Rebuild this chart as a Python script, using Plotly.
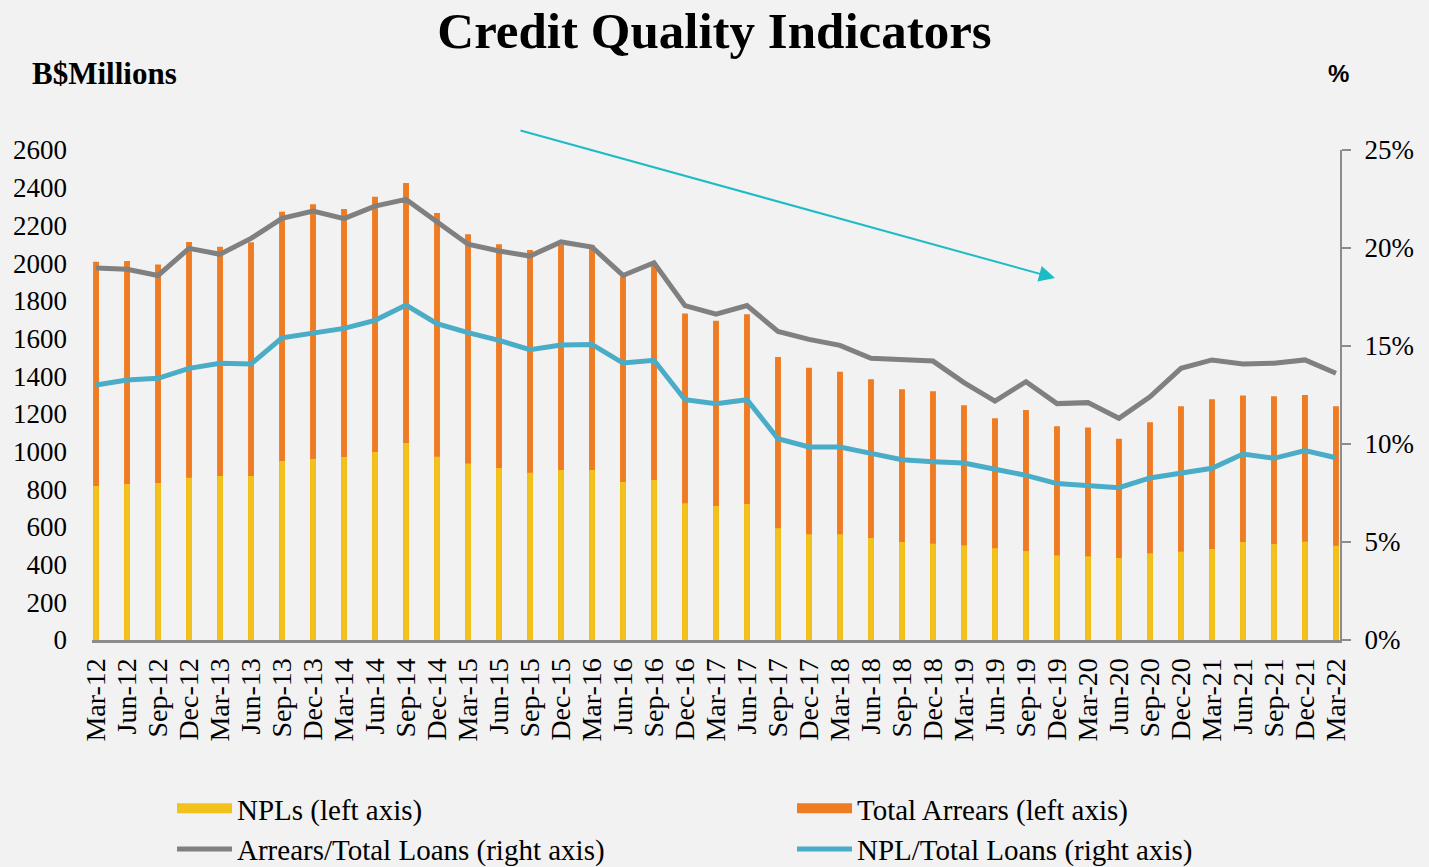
import plotly.graph_objects as go

quarters = ["Mar-12", "Jun-12", "Sep-12", "Dec-12", "Mar-13", "Jun-13", "Sep-13", "Dec-13",
            "Mar-14", "Jun-14", "Sep-14", "Dec-14", "Mar-15", "Jun-15", "Sep-15", "Dec-15",
            "Mar-16", "Jun-16", "Sep-16", "Dec-16", "Mar-17", "Jun-17", "Sep-17", "Dec-17",
            "Mar-18", "Jun-18", "Sep-18", "Dec-18", "Mar-19", "Jun-19", "Sep-19", "Dec-19",
            "Mar-20", "Jun-20", "Sep-20", "Dec-20", "Mar-21", "Jun-21", "Sep-21", "Dec-21",
            "Mar-22"]

total_arrears = [2007, 2011, 1993, 2112, 2087, 2110, 2273, 2312, 2287, 2352, 2425, 2266,
                 2153, 2100, 2069, 2096, 2094, 1928, 1990, 1733, 1694, 1728, 1502, 1445,
                 1424, 1383, 1330, 1320, 1245, 1176, 1220, 1134, 1128, 1068, 1155, 1240,
                 1277, 1298, 1293, 1300, 1240]

npls = [817, 828, 833, 861, 870, 870, 950, 960, 971, 997, 1045, 973,
        937, 913, 888, 902, 902, 838, 849, 725, 711, 722, 593, 561,
        561, 541, 520, 511, 502, 487, 472, 449, 444, 435, 460, 469,
        483, 520, 509, 522, 500]

arrears_ratio = [18.98, 18.91, 18.6, 19.98, 19.68, 20.49, 21.51, 21.89, 21.5, 22.14, 22.48, 21.35,
                 20.19, 19.85, 19.59, 20.31, 20.05, 18.6, 19.25, 17.06, 16.62, 17.06, 15.74, 15.34,
                 15.03, 14.37, 14.27, 14.23, 13.13, 12.19, 13.18, 12.06, 12.11, 11.31, 12.41, 13.86,
                 14.29, 14.08, 14.12, 14.29, 13.61]

npl_ratio = [13.01, 13.27, 13.35, 13.86, 14.12, 14.08, 15.42, 15.63, 15.9, 16.31, 17.09, 16.14,
             15.68, 15.29, 14.81, 15.05, 15.08, 14.13, 14.27, 12.26, 12.06, 12.26, 10.27, 9.85,
             9.85, 9.52, 9.2, 9.1, 9.03, 8.71, 8.4, 7.98, 7.86, 7.77, 8.27, 8.54,
             8.76, 9.49, 9.27, 9.66, 9.3]

left_ticks = list(range(0, 2601, 200))
right_ticks = [0, 5, 10, 15, 20, 25]
right_tick_labels = [f"{v}%" for v in right_ticks]

SERIF = "Liberation Serif"
YELLOW = "#F2C11C"
ORANGE = "#EF7B22"
GRAY = "#808080"
BLUE = "#4AACC6"
ARROW = "#1DBCC4"

PLOT_L, PLOT_R, PLOT_T, PLOT_B = 92, 1340, 150, 640
PW, PH = PLOT_R - PLOT_L, PLOT_B - PLOT_T

fig = go.Figure()
fig.add_trace(go.Bar(x=quarters, y=total_arrears, name="Total Arrears (left axis)",
                     marker=dict(color=ORANGE, line=dict(width=0)), width=0.19,
                     showlegend=False))
fig.add_trace(go.Bar(x=quarters, y=npls, name="NPLs (left axis)",
                     marker=dict(color=YELLOW, line=dict(width=0)), width=0.19,
                     showlegend=False))
fig.add_trace(go.Scatter(x=quarters, y=arrears_ratio, name="Arrears/Total Loans (right axis)",
                         mode="lines", line=dict(color=GRAY, width=5), yaxis="y2",
                         legendrank=3))
fig.add_trace(go.Scatter(x=quarters, y=npl_ratio, name="NPL/Total Loans (right axis)",
                         mode="lines", line=dict(color=BLUE, width=5), yaxis="y2",
                         legendrank=4))
# legend entries for the bar series (wide rectangular swatches)
fig.add_trace(go.Scatter(x=[None], y=[None], name="NPLs (left axis)", mode="lines",
                         line=dict(color=YELLOW, width=16), legendrank=1,
                         hoverinfo="skip"))
fig.add_trace(go.Scatter(x=[None], y=[None], name="Total Arrears (left axis)", mode="lines",
                         line=dict(color=ORANGE, width=16), legendrank=2,
                         hoverinfo="skip"))

fig.update_layout(
    width=1429, height=867,
    paper_bgcolor="#F2F2F2", plot_bgcolor="#F2F2F2",
    margin=dict(l=PLOT_L, r=1429 - PLOT_R, t=PLOT_T, b=867 - PLOT_B),
    barmode="overlay",
    font=dict(family=SERIF, color="#000000", size=26),
    title=dict(text="<b>Credit Quality Indicators</b>", x=0.5, xanchor="center",
               y=1 - 30 / 867, yanchor="middle", yref="container",
               font=dict(family=SERIF, size=51, color="#000000")),
    xaxis=dict(type="category", range=[-0.13, 40.13], tickangle=-90,
               tickmode="linear", tick0=0, dtick=1,
               showline=True, linecolor="#8C8C8C", linewidth=3, ticks="",
               showgrid=False, zeroline=False, ticklabelstandoff=4,
               tickfont=dict(family=SERIF, size=28)),
    yaxis=dict(range=[0, 2600], tickvals=left_ticks, showgrid=False, zeroline=False,
               showline=False, ticks="", ticklabelstandoff=24,
               tickfont=dict(family=SERIF, size=27)),
    yaxis2=dict(range=[0, 25], tickmode="array", tickvals=right_ticks,
                ticktext=right_tick_labels, overlaying="y",
                side="right", showgrid=False, zeroline=False, showline=True,
                linecolor="#8C8C8C", linewidth=2, ticks="outside", ticklen=9,
                tickcolor="#8C8C8C", tickwidth=2, ticklabelstandoff=8,
                tickfont=dict(family=SERIF, size=27)),
    legend=dict(orientation="h", xref="container", yref="container",
                x=172 / 1429, y=1 - 783 / 867, xanchor="left", yanchor="top",
                entrywidth=550, entrywidthmode="pixels", itemwidth=55,
                font=dict(family=SERIF, size=29), bgcolor="rgba(0,0,0,0)",
                traceorder="normal", tracegroupgap=0),
    showlegend=True,
)

fig.add_annotation(text="<b>B$Millions</b>", xref="paper", yref="paper",
                   x=(30 - PLOT_L) / PW, xanchor="left", y=(PLOT_B - 74) / PH, yanchor="middle",
                   showarrow=False, font=dict(family=SERIF, size=31, color="#000000"))
fig.add_annotation(text="<b>%</b>", xref="paper", yref="paper",
                   x=(1338 - PLOT_L) / PW, xanchor="center", y=(PLOT_B - 74) / PH, yanchor="middle",
                   showarrow=False, font=dict(family="Liberation Sans", size=24, color="#000000"))
fig.add_annotation(text="", xref="paper", yref="paper",
                   x=(1055 - PLOT_L) / PW, y=(PLOT_B - 278) / PH,
                   ax=-536, ay=-148, showarrow=True, arrowhead=2, arrowsize=1.6,
                   arrowwidth=2, arrowcolor=ARROW)

fig.write_html("out.html", config={"displayModeBar": False},
               post_script="document.body.style.margin='0';"
                           "document.body.style.background='#F2F2F2';")
